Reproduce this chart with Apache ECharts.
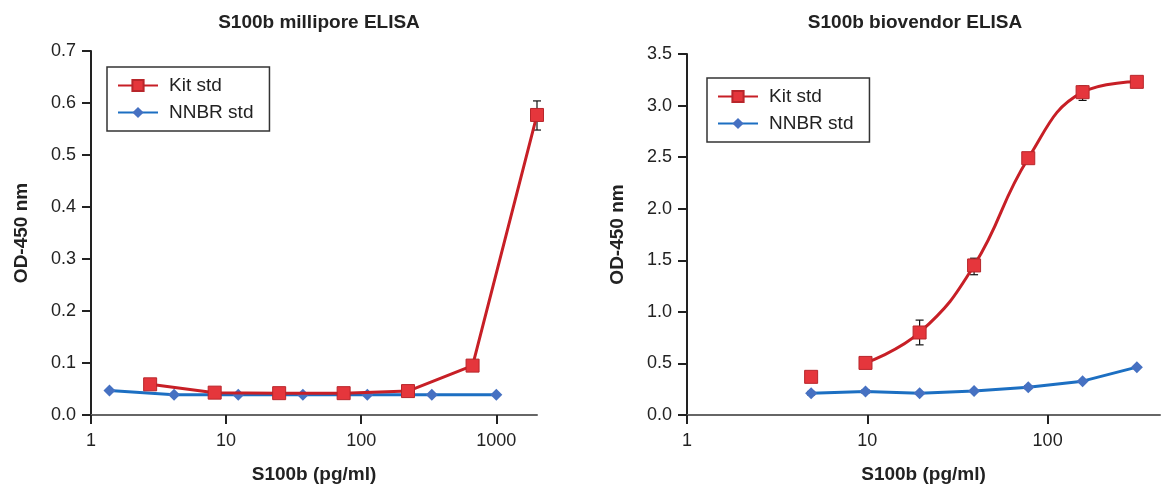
<!DOCTYPE html>
<html>
<head>
<meta charset="utf-8">
<script src="https://cdn.jsdelivr.net/npm/echarts@6/dist/echarts.min.js"></script>
<style>html,body{margin:0;padding:0;background:#fff;}#c{width:1164px;height:488px;}</style>
</head>
<body>
<div id="c"></div>
<script>
// ---- Left panel: S100b millipore ELISA ----
const leftKitX = [2.74, 8.23, 24.7, 74.1, 222, 667, 2000];
const leftKitY = [0.059, 0.043, 0.042, 0.042, 0.046, 0.095, 0.577];
const leftNnbrX = [1.37, 4.12, 12.3, 37.0, 111, 333, 1000];
const leftNnbrY = [0.047, 0.039, 0.039, 0.039, 0.039, 0.039, 0.039];
const leftKitErrX = [2000];
const leftKitErrLow = [0.548];
const leftKitErrHigh = [0.604];

// ---- Right panel: S100b biovendor ELISA ----
const rightKitX = [4.88, 9.77, 19.5, 39.1, 78.1, 156.3, 312.5];
const rightKitY = [0.37, 0.505, 0.80, 1.45, 2.49, 3.13, 3.23];
const rightNnbrX = [4.88, 9.77, 19.5, 39.1, 78.1, 156.3, 312.5];
const rightNnbrY = [0.212, 0.228, 0.212, 0.232, 0.27, 0.328, 0.464];
const rightKitErrX = [19.5, 39.1, 78.1, 156.3];
const rightKitErrLow = [0.68, 1.36, 2.45, 3.05];
const rightKitErrHigh = [0.92, 1.52, 2.52, 3.19];
const rightNnbrErrX = [4.88, 9.77, 78.1];
const rightNnbrErrLow = [0.195, 0.212, 0.255];
const rightNnbrErrHigh = [0.228, 0.244, 0.285];

const xTicks = [1, 10, 100, 1000];
const leftYMax = 0.7, leftYStep = 0.1;
const rightYMax = 3.5, rightYStep = 0.5;

const RED_LINE = '#c71f26', RED_FILL = '#e5363c', RED_BORDER = '#b8262b';
const BLUE_LINE = '#1c6fc2', BLUE_FILL = '#4671c2';
const FONT = 'Liberation Sans, Arial, sans-serif';

const zip = (xs, ys) => xs.map((x, i) => [x, ys[i]]);
const errData = (xs, lo, hi) => xs.map((x, i) => [x, lo[i], hi[i]]);

function errSeries(data, xi, yi) {
  return {
    type: 'custom', xAxisIndex: xi, yAxisIndex: yi, z: 1, silent: true,
    data: data,
    renderItem: function (params, api) {
      const x = api.value(0);
      const lo = api.coord([x, api.value(1)]);
      const hi = api.coord([x, api.value(2)]);
      const w = 4;
      const st = { stroke: '#111', lineWidth: 1.2, fill: null };
      return {
        type: 'group', children: [
          { type: 'line', shape: { x1: lo[0], y1: lo[1], x2: hi[0], y2: hi[1] }, style: st },
          { type: 'line', shape: { x1: hi[0] - w, y1: hi[1], x2: hi[0] + w, y2: hi[1] }, style: st },
          { type: 'line', shape: { x1: lo[0] - w, y1: lo[1], x2: lo[0] + w, y2: lo[1] }, style: st }
        ]
      };
    }
  };
}

function xAxis(gi, max) {
  return {
    type: 'log', logBase: 10, gridIndex: gi, min: 1, max: max,
    name: 'S100b (pg/ml)', nameLocation: 'middle', nameGap: 50,
    nameTextStyle: { fontFamily: FONT, fontWeight: 'bold', fontSize: 19, color: '#222' },
    axisLine: { lineStyle: { color: '#666', width: 2 } },
    axisTick: { show: true, length: 9, lineStyle: { color: '#222', width: 2 }, customValues: xTicks },
    axisLabel: { fontFamily: FONT, fontSize: 18, color: '#222', margin: 17, customValues: xTicks,
      formatter: v => String(Math.round(v)) },
    splitLine: { show: false }, minorTick: { show: false }, minorSplitLine: { show: false }
  };
}
function yAxis(gi, max, step) {
  return {
    type: 'value', gridIndex: gi, min: 0, max: max, interval: step,
    name: 'OD-450 nm', nameLocation: 'middle', nameGap: 60, nameRotate: 90,
    nameTextStyle: { fontFamily: FONT, fontWeight: 'bold', fontSize: 19, color: '#222' },
    axisLine: { show: true, lineStyle: { color: '#222', width: 2 } },
    axisTick: { show: true, length: 9, lineStyle: { color: '#222', width: 2 } },
    axisLabel: { fontFamily: FONT, fontSize: 18, color: '#222', margin: 15,
      formatter: v => v.toFixed(1) },
    splitLine: { show: false }
  };
}
function legend(left, top) {
  return {
    left: left, top: top, orient: 'vertical', data: ['Kit std', 'NNBR std'],
    borderColor: '#333', borderWidth: 1.5, borderRadius: 0,
    padding: [8, 16, 8, 10], itemGap: 6, itemWidth: 40, itemHeight: 14,
    textStyle: { fontFamily: FONT, fontSize: 19, color: '#222', lineHeight: 21, padding: [0, 0, 0, 6] },
    selectedMode: false
  };
}
const kitStyle = {
  symbol: 'rect', symbolSize: 13,
  itemStyle: { color: RED_FILL, borderColor: RED_BORDER, borderWidth: 1, opacity: 1 },
  lineStyle: { color: RED_LINE, width: 3 }
};
const nnbrStyle = {
  symbol: 'diamond', symbolSize: 12,
  itemStyle: { color: BLUE_FILL, borderColor: BLUE_FILL, borderWidth: 0, opacity: 1 },
  lineStyle: { color: BLUE_LINE, width: 3 }
};

const chart = echarts.init(document.getElementById('c'), null, { renderer: 'canvas' });
chart.setOption({
  animation: false,
  backgroundColor: '#fff',
  title: [
    { text: 'S100b millipore ELISA', left: 314, top: 8, textAlign: 'center',
      textStyle: { fontFamily: FONT, fontWeight: 'bold', fontSize: 19, color: '#222' } },
    { text: 'S100b biovendor ELISA', left: 910, top: 8, textAlign: 'center',
      textStyle: { fontFamily: FONT, fontWeight: 'bold', fontSize: 19, color: '#222' } }
  ],
  legend: [legend(107, 67), legend(707, 78)],
  grid: [
    { left: 91, top: 51, width: 446, height: 364, outerBoundsMode: 'none', containLabel: false },
    { left: 687, top: 54, width: 473, height: 361, outerBoundsMode: 'none', containLabel: false }
  ],
  xAxis: [xAxis(0, 2000), xAxis(1, 420)],
  yAxis: [yAxis(0, leftYMax, leftYStep), yAxis(1, rightYMax, rightYStep)],
  series: [
    errSeries(errData(leftKitErrX, leftKitErrLow, leftKitErrHigh), 0, 0),
    Object.assign({ name: 'NNBR std', type: 'line', xAxisIndex: 0, yAxisIndex: 0, z: 2,
      data: zip(leftNnbrX, leftNnbrY) }, nnbrStyle),
    Object.assign({ name: 'Kit std', type: 'line', xAxisIndex: 0, yAxisIndex: 0, z: 3,
      data: zip(leftKitX, leftKitY) }, kitStyle),
    errSeries(errData(rightKitErrX, rightKitErrLow, rightKitErrHigh), 1, 1),
    errSeries(errData(rightNnbrErrX, rightNnbrErrLow, rightNnbrErrHigh), 1, 1),
    Object.assign({ name: 'NNBR std', type: 'line', xAxisIndex: 1, yAxisIndex: 1, z: 2,
      data: zip(rightNnbrX, rightNnbrY) }, nnbrStyle),
    Object.assign({ name: 'Kit std', type: 'line', xAxisIndex: 1, yAxisIndex: 1, z: 3, smooth: 0.45,
      data: zip(rightKitX.slice(1), rightKitY.slice(1)) }, kitStyle),
    Object.assign({ name: 'Kit std pt', type: 'scatter', xAxisIndex: 1, yAxisIndex: 1, z: 3,
      data: zip(rightKitX.slice(0, 1), rightKitY.slice(0, 1)) }, kitStyle)
  ]
});
</script>
</body>
</html>
